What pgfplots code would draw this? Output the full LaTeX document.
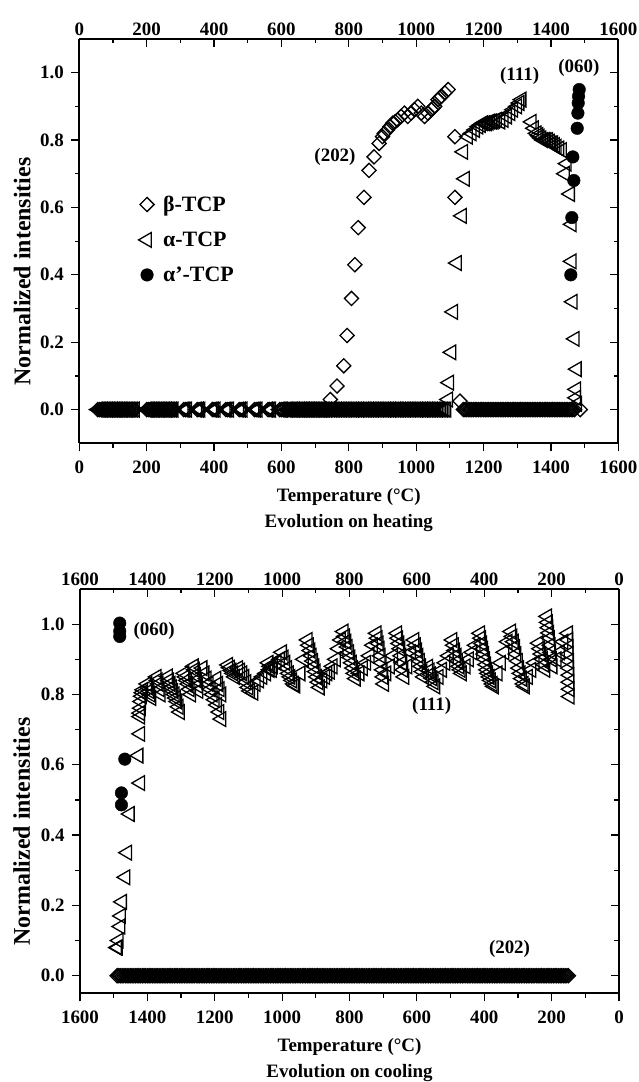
\documentclass[border=0pt]{standalone}
\usepackage{fontspec}
\setmainfont{Liberation Serif}
\usepackage{pgfplots}
\pgfplotsset{compat=1.18}
\pgfplotsset{
  base/.style={scale only axis, width=539bp, height=404.3bp,
    xmin=0, xmax=1600, xtick={0,200,...,1600}, minor x tick num=1,
    ytick={0,0.2,0.4,0.6,0.8,1.0}, minor y tick num=1,
    tick style={black, line width=1.2bp}, major tick length=8bp, minor tick length=4.5bp,
    axis line style={line width=1.8bp},
    ticklabel style={font=\fontsize{19}{22}\selectfont\bfseries},
    /pgf/number format/assume math mode=true,
    yticklabel style={xshift=-4bp, /pgf/number format/fixed, /pgf/number format/fixed zerofill, /pgf/number format/precision=1},
    xticklabel style={/pgf/number format/1000 sep={}},
    clip=false},
  lower/.style={xticklabel style={yshift=-6bp}, xlabel shift=8bp,
    xlabel style={font=\fontsize{19}{26.5}\selectfont\bfseries, align=center},
    ylabel style={font=\fontsize{24}{26}\selectfont\bfseries, anchor=center}},
  bmark/.style={only marks, mark=square, mark size=5bp, mark options={rotate=45, fill=white, draw=black, line width=1.3bp}},
  amark/.style={only marks, mark=triangle, mark size=8.5bp, mark options={rotate=90, fill=white, draw=black, line width=1.3bp}},
  cmark/.style={only marks, mark=*, mark size=6.3bp, mark options={fill=black, draw=black}},
}
\tikzset{lab/.style={font=\fontsize{19}{22}\selectfont\bfseries}}
\begin{document}
\begin{tikzpicture}
\path[use as bounding box] (0bp,0bp) rectangle (639bp,1082bp);
% ---------------- heating ----------------
\begin{axis}[base, lower, at={(79.3bp,638.7bp)}, anchor=south west, ymin=-0.1, ymax=1.1,
  axis x line*=bottom, axis y line*=left, tick align=outside,
  xlabel={Temperature (°C)\\Evolution on heating},
  ylabel={Normalized intensities},
  ylabel style={at={(axis description cs:-0.106,0.425)}},
  legend style={draw=none, fill=none, at={(0.104,0.622)}, anchor=north west,
    font=\fontsize{22}{24}\selectfont\bfseries, row sep=15bp, legend cell align=left}]
% beta-TCP
\addplot[bmark] coordinates {
(55,0)(60,0)(65,0)(70,0)(75,0)(80,0)(85,0)(90,0)(95,0)(100,0)(105,0)(110,0)(115,0)(120,0)(125,0)(130,0)(135,0)(140,0)(145,0)(150,0)(155,0)(160,0)(165,0)
(200,0)(205,0)(210,0)(215,0)(220,0)(225,0)(230,0)(235,0)(240,0)(245,0)(250,0)(255,0)(260,0)(265,0)(270,0)(275,0)(280,0)
(310,0)(315,0)(320,0)(350,0)(355,0)(360,0)(395,0)(400,0)(405,0)(435,0)(440,0)(445,0)(475,0)(480,0)(485,0)(520,0)(525,0)(530,0)(560,0)(565,0)(570,0)(595,0)(600,0)(605,0)
(615,0)(620,0)(625,0)(630,0)(635,0)(640,0)(645,0)(650,0)(655,0)(660,0)(665,0)(670,0)(675,0)(680,0)(685,0)(690,0)(695,0)(700,0)(705,0)(710,0)(715,0)(720,0)(725,0)(730,0)(735,0)(740,0)
(745,0.03)(765,0.07)(785,0.13)(795,0.22)(808,0.33)(818,0.43)(828,0.54)(845,0.63)(860,0.71)(875,0.75)(890,0.79)(900,0.81)(905,0.82)(915,0.83)(922,0.84)(930,0.85)(938,0.855)(945,0.86)(955,0.87)(965,0.88)(975,0.87)(985,0.88)(995,0.89)(1005,0.90)(1015,0.88)(1025,0.87)(1035,0.88)(1045,0.89)(1050,0.895)(1055,0.90)(1065,0.92)(1070,0.925)(1075,0.93)(1085,0.94)(1095,0.95)
(1115,0.81)(1115,0.63)(1130,0.025)
(1140,0)(1145,0)(1150,0)(1155,0)(1160,0)(1165,0)(1170,0)(1175,0)(1180,0)(1185,0)(1190,0)(1195,0)(1200,0)(1205,0)(1210,0)(1215,0)(1220,0)(1225,0)(1230,0)(1235,0)(1240,0)(1245,0)(1250,0)(1255,0)(1260,0)(1265,0)(1270,0)(1275,0)(1280,0)(1285,0)(1290,0)(1295,0)(1300,0)(1305,0)(1310,0)(1315,0)(1320,0)(1325,0)(1330,0)(1335,0)(1340,0)(1345,0)(1350,0)(1355,0)(1360,0)(1365,0)(1370,0)(1375,0)(1380,0)(1385,0)(1390,0)(1395,0)(1400,0)(1405,0)(1410,0)(1415,0)(1420,0)(1425,0)(1430,0)(1435,0)(1440,0)(1445,0)(1450,0)(1455,0)(1460,0)(1465,0)(1470,0)(1487,0)
};
\addlegendentry{\hspace{7bp}β-TCP}
% alpha-TCP
\addplot[amark] coordinates {
(55,0)(60,0)(65,0)(70,0)(75,0)(80,0)(85,0)(90,0)(95,0)(100,0)(105,0)(110,0)(115,0)(120,0)(125,0)(130,0)(135,0)(140,0)(145,0)(150,0)(155,0)(160,0)(165,0)
(200,0)(205,0)(210,0)(215,0)(220,0)(225,0)(230,0)(235,0)(240,0)(245,0)(250,0)(255,0)(260,0)(265,0)(270,0)(275,0)(280,0)
(310,0)(315,0)(320,0)(350,0)(355,0)(360,0)(395,0)(400,0)(405,0)(435,0)(440,0)(445,0)(475,0)(480,0)(485,0)(520,0)(525,0)(530,0)(560,0)(565,0)(570,0)(595,0)(600,0)(605,0)
(615,0)(620,0)(625,0)(630,0)(635,0)(640,0)(645,0)(650,0)(655,0)(660,0)(665,0)(670,0)(675,0)(680,0)(685,0)(690,0)(695,0)(700,0)(705,0)(710,0)(715,0)(720,0)(725,0)(730,0)(735,0)(740,0)(745,0)(750,0)(755,0)(760,0)(765,0)(770,0)(775,0)(780,0)(785,0)(790,0)(795,0)(800,0)(805,0)(810,0)(815,0)(820,0)(825,0)(830,0)(835,0)(840,0)(845,0)(850,0)(855,0)(860,0)(865,0)(870,0)(875,0)(880,0)(885,0)(890,0)(895,0)(900,0)(905,0)(910,0)(915,0)(920,0)(925,0)(930,0)(935,0)(940,0)(945,0)(950,0)(955,0)(960,0)(965,0)(970,0)(975,0)(980,0)(985,0)(990,0)(995,0)(1000,0)(1005,0)(1010,0)(1015,0)(1020,0)(1025,0)(1030,0)(1035,0)(1040,0)(1045,0)(1050,0)(1055,0)(1060,0)(1065,0)(1070,0)(1075,0)(1080,0)(1085,0)(1090,0)
(1095,0.03)(1098,0.08)(1105,0.17)(1110,0.29)(1121,0.435)(1136,0.575)(1145,0.685)(1140,0.765)
(1154,0.81)(1165,0.82)(1175,0.83)(1185,0.84)(1192,0.845)(1199,0.85)(1205,0.85)(1210,0.85)(1215,0.852)(1220,0.855)(1225,0.855)(1230,0.855)(1235,0.857)(1240,0.86)(1250,0.855)(1260,0.86)(1270,0.87)(1280,0.88)(1288,0.89)(1300,0.90)(1307,0.91)(1313,0.92)
(1343,0.854)(1350,0.835)(1358,0.82)(1363,0.815)(1367,0.81)(1372,0.805)(1377,0.80)(1382,0.80)(1387,0.80)(1392,0.80)(1397,0.795)(1402,0.79)(1407,0.79)(1412,0.785)(1417,0.78)(1425,0.775)(1433,0.77)(1447,0.73)(1442,0.70)(1457,0.64)(1462,0.55)(1462,0.44)(1465,0.32)(1471,0.21)(1477,0.12)(1475,0.06)(1475,0.035)(1478,0.017)
};
\addlegendentry{\hspace{7bp}α-TCP}
% alpha'-TCP
\addplot[cmark] coordinates {
(1459,0.40)(1462,0.57)(1468,0.68)(1465,0.75)(1478,0.835)(1480,0.88)(1481,0.91)(1482,0.93)(1484,0.95)
};
\addlegendentry{\hspace{7bp}α'-TCP}
\node[lab] at (axis cs:759,0.75) {(202)};
\node[lab] at (axis cs:1307,0.99) {(111)};
\node[lab] at (axis cs:1483,1.015) {(060)};
\end{axis}
\begin{axis}[base, at={(79.3bp,638.7bp)}, anchor=south west, ymin=-0.1, ymax=1.1,
  axis x line*=top, axis y line*=right, tick align=inside, yticklabel=\empty]
\addplot[draw=none] coordinates {(0,0)};
\end{axis}
% ---------------- cooling ----------------
\begin{axis}[base, lower, at={(80bp,88.7bp)}, anchor=south west, ymin=-0.05, ymax=1.1, x dir=reverse,
  axis x line*=bottom, axis y line*=left, tick align=outside,
  xlabel={Temperature (°C)\\Evolution on cooling},
  ylabel={Normalized intensities},
  ylabel style={at={(axis description cs:-0.108,0.40)}}]
\addplot[bmark] coordinates {
(1490,0)(1485,0)(1480,0)(1475,0)(1470,0)(1465,0)(1460,0)(1455,0)(1450,0)(1445,0)(1440,0)(1435,0)(1430,0)(1425,0)(1420,0)(1415,0)(1410,0)(1405,0)(1400,0)(1395,0)(1390,0)(1385,0)(1380,0)(1375,0)(1370,0)(1365,0)(1360,0)(1355,0)(1350,0)(1345,0)(1340,0)(1335,0)(1330,0)(1325,0)(1320,0)(1315,0)(1310,0)(1305,0)(1300,0)(1295,0)(1290,0)(1285,0)(1280,0)(1275,0)(1270,0)(1265,0)(1260,0)(1255,0)(1250,0)(1245,0)(1240,0)(1235,0)(1230,0)(1225,0)(1220,0)(1215,0)(1210,0)(1205,0)(1200,0)(1195,0)(1190,0)(1185,0)(1180,0)(1175,0)(1170,0)(1165,0)(1160,0)(1155,0)(1150,0)(1145,0)(1140,0)(1135,0)(1130,0)(1125,0)(1120,0)(1115,0)(1110,0)(1105,0)(1100,0)(1095,0)(1090,0)(1085,0)(1080,0)(1075,0)(1070,0)(1065,0)(1060,0)(1055,0)(1050,0)(1045,0)(1040,0)(1035,0)(1030,0)(1025,0)(1020,0)(1015,0)(1010,0)(1005,0)(1000,0)
(995,0)(990,0)(985,0)(980,0)(975,0)(970,0)(965,0)(960,0)(955,0)(950,0)(945,0)(940,0)(935,0)(930,0)(925,0)(920,0)(915,0)(910,0)(905,0)(900,0)(895,0)(890,0)(885,0)(880,0)(875,0)(870,0)(865,0)(860,0)(855,0)(850,0)(845,0)(840,0)(835,0)(830,0)(825,0)(820,0)(815,0)(810,0)(805,0)(800,0)(795,0)(790,0)(785,0)(780,0)(775,0)(770,0)(765,0)(760,0)(755,0)(750,0)(745,0)(740,0)(735,0)(730,0)(725,0)(720,0)(715,0)(710,0)(705,0)(700,0)(695,0)(690,0)(685,0)(680,0)(675,0)(670,0)(665,0)(660,0)(655,0)(650,0)(645,0)(640,0)(635,0)(630,0)(625,0)(620,0)(615,0)(610,0)(605,0)(600,0)
(595,0)(590,0)(585,0)(580,0)(575,0)(570,0)(565,0)(560,0)(555,0)(550,0)(545,0)(540,0)(535,0)(530,0)(525,0)(520,0)(515,0)(510,0)(505,0)(500,0)(495,0)(490,0)(485,0)(480,0)(475,0)(470,0)(465,0)(460,0)(455,0)(450,0)(445,0)(440,0)(435,0)(430,0)(425,0)(420,0)(415,0)(410,0)(405,0)(400,0)(395,0)(390,0)(385,0)(380,0)(375,0)(370,0)(365,0)(360,0)(355,0)(350,0)(345,0)(340,0)(335,0)(330,0)(325,0)(320,0)(315,0)(310,0)(305,0)(300,0)(295,0)(290,0)(285,0)(280,0)(275,0)(270,0)(265,0)(260,0)(255,0)(250,0)(245,0)(240,0)(235,0)(230,0)(225,0)(220,0)(215,0)(210,0)(205,0)(200,0)(195,0)(190,0)(185,0)(180,0)(175,0)(170,0)(165,0)(160,0)(155,0)(150,0)
};
\addplot[amark] coordinates {
(1490,0.08)(1487,0.08)(1485,0.10)(1480,0.14)(1478,0.17)(1475,0.21)(1465,0.28)(1460,0.35)(1452,0.46)
(1421,0.548)(1426,0.626)(1421,0.688)(1421,0.737)(1421,0.747)(1419,0.761)(1418,0.78)(1416,0.795)(1414,0.805)(1412,0.813)
(1400,0.83)(1397,0.82)(1394,0.81)(1391,0.80)(1388,0.79)
(1372,0.85)(1369,0.84)(1366,0.83)(1363,0.815)(1360,0.80)
(1339,0.851)(1335,0.84)(1331,0.83)(1327,0.82)(1323,0.81)(1319,0.80)(1315,0.79)(1311,0.78)(1307,0.765)(1303,0.75)
(1290,0.86)(1286,0.85)(1282,0.84)(1278,0.83)(1274,0.815)(1270,0.80)
(1262,0.88)(1259,0.87)(1256,0.855)(1253,0.84)(1250,0.825)(1248,0.81)
(1236,0.875)(1230,0.86)(1224,0.845)(1218,0.83)(1212,0.815)(1206,0.80)(1200,0.785)(1193,0.77)(1186,0.75)(1180,0.73)
(1195,0.845)(1190,0.83)(1185,0.815)(1180,0.80)
(1160,0.884)(1155,0.876)(1150,0.868)(1145,0.86)(1140,0.85)
(1130,0.875)(1124,0.868)(1118,0.86)(1112,0.85)(1106,0.835)(1100,0.82)(1095,0.81)(1085,0.805)
(1078,0.83)(1068,0.84)(1058,0.85)(1047,0.86)(1037,0.87)(1027,0.88)(1016,0.89)(1006,0.90)(1040,0.89)(1035,0.88)(1030,0.87)
(1000,0.92)(995,0.905)(990,0.89)(985,0.875)(980,0.86)(975,0.85)(970,0.84)(965,0.83)(960,0.825)
(945,0.86)(935,0.90)(924,0.955)(920,0.94)(916,0.925)(912,0.91)(908,0.895)(904,0.88)(900,0.865)(896,0.85)(892,0.835)(888,0.82)
(880,0.84)(872,0.85)(865,0.86)(858,0.865)
(850,0.88)(840,0.90)(832,0.93)(825,0.955)(817,0.979)(813,0.965)(809,0.95)(805,0.935)(801,0.92)(797,0.905)(793,0.89)(789,0.875)(785,0.86)(781,0.845)
(770,0.86)(760,0.875)(750,0.89)(740,0.91)(730,0.94)(719,0.974)(716,0.96)(713,0.945)(710,0.93)(707,0.91)(704,0.89)(701,0.87)(699,0.85)(697,0.83)
(690,0.86)(680,0.88)(670,0.91)(658,0.974)(655,0.96)(652,0.945)(649,0.93)(646,0.91)(643,0.89)(640,0.87)(637,0.85)
(628,0.88)(617,0.92)(607,0.955)(603,0.94)(599,0.925)(595,0.91)(591,0.895)(587,0.88)(583,0.865)(579,0.85)
(566,0.879)(562,0.868)(558,0.857)(554,0.846)(550,0.835)(545,0.823)
(535,0.85)(525,0.87)(515,0.89)(505,0.91)(494,0.955)(490,0.94)(486,0.925)(482,0.91)(478,0.895)(474,0.88)(470,0.87)(466,0.86)
(455,0.88)(445,0.90)(435,0.92)(425,0.94)(412,0.974)(409,0.96)(406,0.945)(403,0.93)(400,0.915)(397,0.90)(394,0.885)(391,0.87)(388,0.86)(384,0.85)(380,0.84)(375,0.83)(371,0.823)
(360,0.86)(350,0.89)(340,0.92)(330,0.95)(320,0.979)(316,0.965)(312,0.95)(308,0.935)(304,0.915)(300,0.895)(296,0.875)(292,0.86)(288,0.845)(283,0.83)(279,0.823)
(270,0.85)(260,0.87)(250,0.89)(238,0.946)(234,0.93)(230,0.915)(226,0.90)(222,0.885)(218,0.87)
(213,1.022)(211,1.005)(209,0.99)(207,0.975)(205,0.96)(203,0.94)(201,0.92)(199,0.90)(197,0.88)
(185,0.90)(175,0.92)(165,0.95)(151,0.974)(150,0.955)(149,0.935)(149,0.915)(148,0.895)(148,0.875)(147,0.855)(147,0.835)(146,0.815)(146,0.794)
};
\addplot[cmark] coordinates {
(1482,1.003)(1482,0.98)(1482,0.965)(1467,0.616)(1477,0.52)(1477,0.486)
};
\node[lab] at (axis cs:1380,0.982) {(060)};
\node[lab] at (axis cs:556,0.766) {(111)};
\node[lab] at (axis cs:325,0.075) {(202)};
\end{axis}
\begin{axis}[base, at={(80bp,88.7bp)}, anchor=south west, ymin=-0.05, ymax=1.1, x dir=reverse,
  axis x line*=top, axis y line*=right, tick align=inside, yticklabel=\empty]
\addplot[draw=none] coordinates {(0,0)};
\end{axis}
\end{tikzpicture}
\end{document}
